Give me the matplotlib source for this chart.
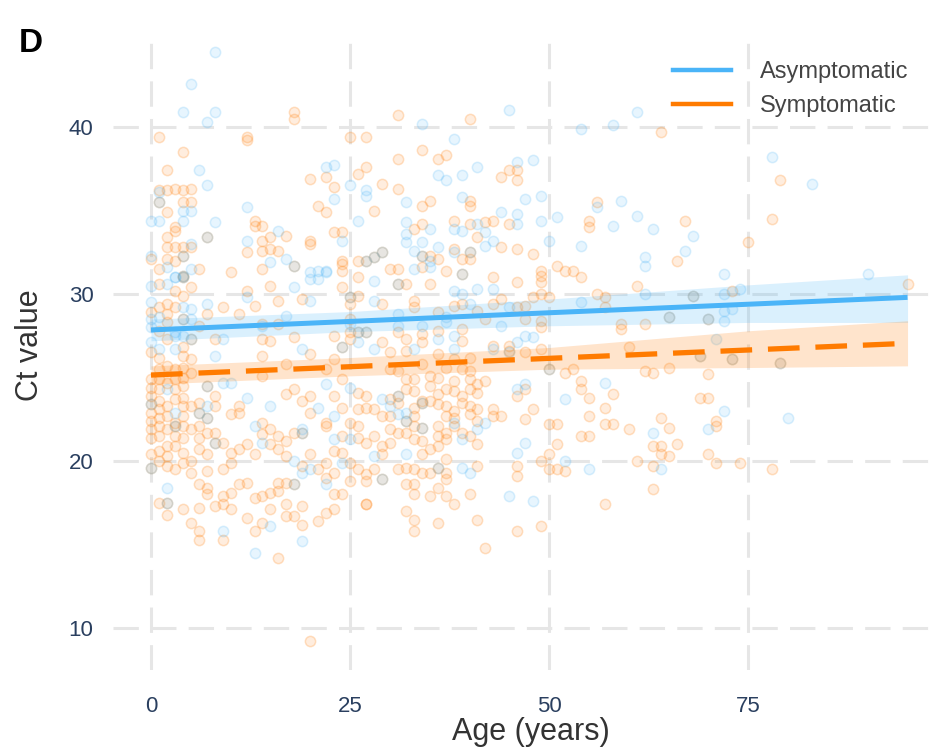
import numpy as np
import matplotlib
matplotlib.use('Agg')
import matplotlib.pyplot as plt
from matplotlib.lines import Line2D

plt.rcParams['font.family'] = ['Liberation Sans', 'DejaVu Sans']

# (age, Ct value) pairs
asym_points = [
    # upper left
    (8, 44.5), (5, 42.6), (4, 40.9), (8, 40.9), (7, 40.3), (6, 37.4), (7, 36.5), (1, 36.1), (1, 35.5),
    (4, 35.0), (5, 35.0), (0, 34.4), (1, 34.4), (4, 34.4), (8, 34.3), (7, 33.4), (12, 35.2), (16, 33.8),
    (12, 33.2), (15, 31.9), (17, 32.1), (18, 31.7), (20, 31.3), (21, 31.4), (22, 31.4), (22, 37.6),
    (23, 37.7), (23, 35.7), (24, 33.2), (25, 36.5), (27, 36.2), (27, 35.9), (26, 34.4), (29, 32.5),
    (28, 32.2), (27, 32.0), (0, 32.3), (2, 31.6), (5, 31.5), (3, 31.0), (4, 32.3), (4, 31.1), (5, 33.0),
    # upper middle
    (45, 41.0), (34, 40.2), (54, 39.9), (58, 40.1), (61, 40.9), (38, 39.3), (46, 37.9), (48, 38.0),
    (41, 37.6), (36, 37.1), (37, 36.8), (39, 37.1), (32, 35.5), (39, 35.8), (47, 35.7), (49, 35.9),
    (51, 34.6), (56, 35.2), (59, 35.6), (61, 34.7), (63, 33.9), (58, 34.1), (50, 33.2), (54, 32.9),
    (62, 32.2), (62, 31.7), (32, 34.3), (32, 33.6), (32, 33.1), (35, 33.9), (34, 33.1), (33, 32.6),
    (36, 32.8), (38, 33.9), (39, 33.8), (41, 34.2), (42, 33.7), (43, 33.2), (42, 32.9), (46, 34.8),
    (46, 34.2), (44, 34.9), (49, 34.4), (38, 32.5), (35, 32.0), (33, 31.5), (35, 31.6), (40, 32.5),
    (39, 31.2), (34, 32.3),
    # upper right
    (78, 38.2), (83, 36.6), (68, 33.5), (67, 32.6), (72, 31.2), (90, 31.2),
    # right
    (74, 30.3), (72, 30.0), (68, 29.9), (65, 28.6), (70, 28.5), (72, 29.0), (73, 29.1), (72, 28.4),
    (71, 27.3), (69, 26.3), (73, 26.1), (79, 25.9), (72, 23.0), (80, 22.6), (70, 21.9), (63, 21.7),
    (64, 19.5),
    # low
    (13, 14.5), (19, 15.2), (9, 15.8), (15, 16.1), (2, 17.5), (22, 18.6), (18, 18.6), (45, 17.9),
    (48, 17.6),
    # middle, ages 0-30
    (0, 30.5), (0, 29.5), (0, 28.5), (0, 28.0), (0, 27.1), (0, 23.4), (0, 19.6), (1, 28.6), (1, 26.7),
    (2, 30.6), (2, 24.3), (2, 18.4), (3, 31.0), (3, 27.7), (3, 27.5), (3, 26.7), (3, 22.9), (3, 22.1),
    (4, 31.0), (4, 29.2), (4, 28.5), (4, 27.5), (5, 29.1), (5, 28.5), (5, 27.3), (6, 22.9),
    (7, 29.4), (7, 24.5), (7, 23.3), (7, 22.6), (8, 26.3), (8, 21.1), (9, 27.3), (9, 24.7), (10, 24.7),
    (12, 29.8), (12, 23.8), (13, 22.1), (14, 28.1), (14, 21.1), (15, 23.3), (17, 28.7), (18, 30.4),
    (18, 20.0), (19, 26.7), (19, 21.7), (19, 21.9), (19, 19.3), (20, 30.9), (20, 29.6), (20, 19.5),
    (21, 30.9), (21, 23.2), (22, 31.3), (22, 24.6), (23, 22.7), (23, 21.3), (24, 26.8), (24, 19.9),
    (25, 29.8), (25, 28.2), (25, 24.4), (25, 21.3), (26, 27.1), (26, 27.7), (27, 27.7), (28, 30.8),
    (28, 29.6), (28, 26.7), (28, 20.3), (29, 23.7), (29, 18.9), (30, 23.3),
    # middle, ages 31-63
    (31, 30.6), (31, 28.8), (31, 28.1), (31, 23.9), (31, 22.8), (32, 22.9), (32, 22.4), (32, 20.4),
    (33, 26.7), (34, 28.1), (34, 23.5), (34, 22.0), (36, 27.3), (36, 19.6), (37, 28.6), (37, 28.3),
    (38, 30.2), (38, 27.5), (38, 26.7), (38, 22.3), (39, 30.0), (39, 21.3), (39, 19.6), (40, 29.4),
    (40, 19.3), (41, 30.3), (41, 21.9), (42, 22.3), (43, 30.3), (43, 26.7), (44, 28.1), (45, 29.2),
    (45, 26.5), (46, 27.1), (46, 24.3), (46, 20.5), (47, 27.5), (47, 24.6), (47, 21.1), (48, 27.4),
    (50, 25.5), (52, 23.7), (52, 20.0), (54, 29.5), (55, 19.5), (57, 24.7), (62, 30.0),
]

sym_points = [
    # upper left
    (18, 40.9), (18, 40.5), (1, 39.4), (12, 39.4), (12, 39.2), (25, 39.4), (27, 39.4), (31, 40.7),
    (4, 38.5), (2, 37.4), (1, 36.2), (2, 36.2), (3, 36.3), (4, 36.2), (5, 36.3), (1, 35.5), (4, 35.5),
    (5, 35.5), (2, 34.9), (3, 34.0), (3, 33.8), (2, 33.4), (7, 33.4), (13, 34.4), (13, 34.1),
    (14, 34.1), (17, 33.5), (14, 33.2), (15, 33.4), (15, 32.7), (14, 32.6), (16, 32.6), (12, 32.5),
    (20, 33.2), (20, 33.0), (18, 31.7), (10, 31.3), (14, 31.5), (20, 36.9), (22, 37.0), (23, 36.4),
    (21, 35.3), (22, 34.9), (23, 33.7), (24, 33.7), (24, 32.0), (24, 31.8), (26, 37.2), (27, 37.6),
    (29, 36.6), (28, 35.0), (31, 38.1), (31, 36.3), (29, 32.5), (28, 32.2), (27, 32.0), (26, 32.0),
    (30, 31.5), (31, 31.5), (1, 31.5), (3, 32.0), (2, 32.1), (0, 32.1), (4, 32.3), (4, 31.1),
    (2, 32.8), (3, 32.8), (4, 32.8), (5, 32.8), (6, 31.5),
    # upper middle
    (40, 40.5), (64, 39.7), (34, 38.6), (36, 38.1), (37, 38.3), (45, 37.4), (46, 37.4), (44, 37.0),
    (46, 36.8), (34, 35.3), (35, 35.6), (40, 35.6), (40, 35.3), (56, 35.5), (55, 34.4), (55, 34.0),
    (51, 31.7), (52, 31.4), (53, 31.4), (54, 31.0), (49, 31.4), (33, 33.9), (34, 34.2), (38, 34.4),
    (40, 34.2), (42, 34.3), (43, 34.4), (45, 34.2), (41, 33.4), (38, 32.7), (39, 32.1), (40, 32.1),
    (44, 32.8), (46, 32.7), (48, 32.4), (34, 31.6), (35, 32.3), (36, 32.1), (40, 32.5), (39, 31.2),
    (34, 32.3),
    # upper right
    (79, 36.8), (67, 34.4), (78, 34.5), (75, 33.1), (66, 32.0),
    # right
    (95, 30.6), (73, 30.2), (68, 29.9), (65, 28.6), (70, 28.5), (69, 26.3), (73, 26.1), (79, 25.9),
    (63, 25.3), (65, 25.6), (70, 25.2), (69, 23.8), (70, 23.8), (64, 22.6), (65, 22.0), (71, 22.4),
    (71, 22.1), (64, 20.9), (66, 21.0), (64, 20.4), (65, 20.3), (70, 20.4), (71, 19.9), (74, 19.9),
    (78, 19.5), (63, 19.7), (63, 18.3),
    # low
    (20, 9.2), (16, 14.2), (6, 15.8), (6, 15.3), (9, 15.3), (5, 16.3), (2, 16.8), (4, 17.1), (6, 17.2),
    (1, 17.5), (2, 17.5), (8, 17.3), (9, 17.4), (10, 17.1), (9, 17.9), (10, 18.1), (11, 18.6),
    (6, 18.6), (7, 18.4), (7, 18.0), (12, 16.6), (13, 17.8), (14, 17.9), (13, 15.8), (14, 16.3),
    (15, 17.1), (16, 18.2), (17, 17.4), (17, 16.7), (18, 16.7), (19, 17.3), (19, 16.2), (21, 16.4),
    (22, 16.9), (23, 17.1), (23, 18.0), (24, 18.0), (27, 17.4), (27, 17.4), (25, 18.8), (27, 18.8),
    (18, 18.6), (17, 18.7), (16, 18.7), (57, 17.4), (49, 16.1), (46, 15.8), (42, 14.8), (41, 16.5),
    (36, 16.3), (33, 16.5), (33, 15.8), (32, 17.0), (35, 17.9), (36, 18.4), (37, 17.9), (38, 17.4),
    (40, 18.0), (33, 18.0), (32, 18.6), (33, 18.6), (29, 18.9),
    # middle, ages 0-30
    (0, 28.9), (0, 26.5), (0, 24.9), (0, 24.4), (0, 23.9), (0, 23.4), (0, 22.9), (0, 22.4), (0, 21.9),
    (0, 21.4), (0, 20.4), (0, 19.6),
    (1, 30.6), (1, 29.2), (1, 27.8), (1, 26.2), (1, 25.5), (1, 24.9), (1, 24.3), (1, 23.6), (1, 23.1),
    (1, 22.6), (1, 22.1), (1, 21.5), (1, 20.6), (1, 20.0),
    (2, 29.4), (2, 28.8), (2, 28.3), (2, 27.3), (2, 25.7), (2, 24.7), (2, 23.3), (2, 22.7), (2, 21.9),
    (2, 20.9), (2, 20.3), (2, 19.7),
    (3, 30.2), (3, 29.2), (3, 25.5), (3, 24.9), (3, 24.3), (3, 23.7), (3, 22.3), (3, 22.1), (3, 21.5),
    (3, 20.9), (3, 19.5),
    (4, 31.0), (4, 29.9), (4, 28.5), (4, 26.8), (4, 26.3), (4, 25.6), (4, 25.0), (4, 24.5), (4, 23.8),
    (4, 23.3), (4, 22.7), (4, 22.1), (4, 21.4), (4, 20.5), (4, 19.9),
    (5, 30.4), (5, 27.3), (5, 26.1), (5, 25.3), (5, 23.3), (5, 21.9), (5, 20.0), (5, 19.3),
    (6, 28.1), (6, 23.5), (6, 22.9), (6, 22.1), (6, 21.4), (6, 20.7),
    (7, 28.8), (7, 24.5), (7, 22.6), (7, 21.7), (7, 20.4), (7, 19.4),
    (8, 27.3), (8, 23.9), (8, 23.3), (8, 21.7), (8, 21.1),
    (9, 29.2), (9, 21.1), (9, 19.5), (10, 22.8), (10, 20.5), (10, 19.9),
    (11, 28.8), (11, 23.3), (11, 22.9), (11, 20.7), (12, 30.2), (12, 21.0), (12, 18.7),
    (13, 29.3), (13, 20.4), (14, 28.2), (14, 27.3), (14, 26.3), (14, 25.1), (14, 22.3), (14, 21.6),
    (15, 30.5), (15, 27.2), (15, 21.9), (15, 21.0), (15, 18.1), (16, 29.6), (16, 28.2), (16, 21.5),
    (16, 20.7), (17, 25.8), (17, 24.0), (17, 21.2), (17, 20.3), (18, 27.4), (18, 24.3), (18, 21.7),
    (19, 29.7), (19, 23.6), (19, 21.7), (19, 19.7), (20, 26.4), (20, 23.9), (20, 22.9), (20, 20.4),
    (21, 19.5), (22, 25.5), (22, 22.3), (22, 22.1), (22, 19.9), (22, 19.0),
    (23, 27.5), (23, 26.1), (23, 23.9), (23, 20.6), (23, 19.3),
    (24, 31.4), (24, 30.4), (24, 26.8), (24, 24.9), (24, 23.2), (24, 21.5), (24, 20.5),
    (25, 29.8), (25, 29.4), (25, 28.5), (25, 27.7), (25, 27.3), (25, 22.3), (25, 19.9),
    (26, 31.0), (26, 29.9), (26, 27.7), (26, 24.1), (26, 23.1), (26, 22.1), (26, 21.4), (26, 19.5),
    (27, 27.7), (27, 23.9), (27, 23.2), (27, 21.1), (27, 19.2), (28, 23.1), (28, 21.5), (28, 19.5),
    (29, 29.4), (29, 27.1), (29, 22.7), (29, 20.9), (29, 20.4), (30, 21.9),
    # middle, ages 30-63
    (30, 26.5), (30, 25.5), (30, 23.7), (30, 22.7), (30, 21.1),
    (31, 30.6), (31, 27.7), (31, 25.4), (31, 23.9), (31, 23.5), (31, 21.7), (31, 19.5),
    (32, 30.6), (32, 27.3), (32, 26.6), (32, 24.9), (32, 24.3), (32, 22.4), (32, 21.7), (32, 19.6),
    (33, 29.6), (33, 29.2), (33, 24.9), (33, 24.2), (33, 23.2), (33, 22.7), (33, 22.1), (33, 21.3),
    (33, 19.5),
    (34, 27.6), (34, 27.1), (34, 25.8), (34, 23.6), (34, 23.5), (34, 22.0), (34, 21.2), (34, 20.4),
    (34, 19.3),
    (35, 30.6), (35, 25.1), (35, 24.5), (35, 23.6), (35, 20.7), (35, 19.3),
    (36, 28.9), (36, 27.8), (36, 26.4), (36, 25.0), (36, 24.0), (36, 23.4), (36, 22.1), (36, 21.5),
    (36, 20.9), (36, 19.6),
    (37, 31.4), (37, 25.6), (37, 24.3), (37, 23.3), (37, 22.7), (37, 21.7), (37, 21.3), (37, 20.1),
    (37, 19.3), (37, 18.9),
    (38, 29.3), (38, 26.1), (38, 24.8), (38, 24.2), (38, 23.0), (38, 22.6), (38, 22.1),
    (39, 29.4), (39, 27.9), (39, 27.2), (39, 25.5), (39, 23.9), (39, 23.5), (39, 21.7),
    (40, 26.2), (40, 25.4), (40, 24.9), (40, 24.3), (40, 23.3), (40, 22.8), (40, 21.5),
    (41, 29.0), (41, 24.6), (41, 24.1), (41, 23.1), (41, 22.4), (41, 21.0), (41, 19.7),
    (42, 28.5), (42, 24.8), (43, 31.0), (43, 29.4), (43, 26.9), (43, 23.1), (43, 22.7),
    (44, 29.7), (44, 22.7), (45, 26.9), (45, 26.6),
    (46, 30.7), (46, 29.2), (46, 23.9), (46, 19.7), (46, 19.1),
    (47, 29.3), (47, 28.5), (47, 26.5), (47, 24.3), (47, 22.5), (48, 29.8), (48, 23.1),
    (49, 31.1), (49, 30.7), (49, 30.0), (49, 28.4), (49, 28.0), (49, 26.7), (49, 20.0),
    (50, 29.8), (50, 25.5), (50, 22.2), (50, 20.4), (50, 19.5), (51, 22.2), (51, 21.0), (51, 19.5),
    (52, 25.3), (52, 19.4), (53, 25.5), (54, 24.8), (54, 24.3), (54, 21.5),
    (55, 23.8), (55, 22.7), (55, 21.5), (56, 30.0), (57, 29.8), (57, 29.2), (57, 23.2), (57, 22.2),
    (58, 24.0), (58, 22.2), (59, 28.2), (59, 27.9), (60, 26.8), (60, 21.9), (61, 30.5), (61, 20.0),
    (62, 28.2), (62, 25.4), (63, 20.9),
]

# regression lines and 95% bands, read at a few ages
fit_age = [0, 25, 50, 75, 95]
asym_fit = [27.85, 28.36, 28.88, 29.39, 29.80]
asym_lo = [27.20, 27.75, 28.10, 28.30, 28.30]
asym_hi = [28.50, 28.95, 29.70, 30.55, 31.15]
sym_fit = [25.15, 25.65, 26.15, 26.65, 27.05]
sym_lo = [24.60, 25.10, 25.50, 25.60, 25.70]
sym_hi = [25.70, 26.20, 26.80, 27.80, 28.40]

x_ticks = [0, 25, 50, 75]
y_ticks = [10, 20, 30, 40]

blue = '#4ab4f8'
orange = '#ff7b00'

asym = np.array(asym_points)
sym = np.array(sym_points)

fig = plt.figure(figsize=(9.47, 7.48), dpi=100)
ax = fig.add_axes([113 / 947, 1 - 670 / 748, 824 / 947, 633 / 748])

ax.scatter(sym[:, 0], sym[:, 1], s=55, facecolors=matplotlib.colors.to_rgba(orange, 0.13),
           edgecolors=matplotlib.colors.to_rgba(orange, 0.22), linewidths=1.1, zorder=2)
ax.scatter(asym[:, 0], asym[:, 1], s=55, facecolors=matplotlib.colors.to_rgba(blue, 0.13),
           edgecolors=matplotlib.colors.to_rgba(blue, 0.2), linewidths=1.1, zorder=2)

ax.fill_between(fit_age, asym_lo, asym_hi, color=blue, alpha=0.2, lw=0, zorder=3)
ax.fill_between(fit_age, sym_lo, sym_hi, color=orange, alpha=0.2, lw=0, zorder=3)
ax.plot(fit_age, asym_fit, color=blue, lw=3.6, solid_capstyle='butt', zorder=4)
ax.plot(fit_age, sym_fit, color=orange, lw=3.8, dashes=(6, 3), dash_capstyle='butt', zorder=4)

ax.set_xlim(-4.77, 98.7)
ax.set_ylim(7.49, 45.39)
ax.set_xticks(x_ticks)
ax.set_yticks(y_ticks)
ax.grid(True, color='#e6e6e6', lw=2.2, linestyle=(0, (8.3, 4)))
ax.set_axisbelow(True)
for s in ax.spines.values():
    s.set_visible(False)
ax.tick_params(length=0, labelsize=16, labelcolor='#2a3f5f')
ax.tick_params(axis='x', pad=19)
ax.tick_params(axis='y', pad=14)

fig.text(531 / 947, 1 - 740 / 748, 'Age (years)', ha='center', va='baseline', fontsize=22, color='#333333')
fig.text(30 / 947, 1 - 345 / 748, 'Ct value', ha='center', va='center', rotation=90,
         fontsize=22, color='#333333')
fig.text(19 / 947, 1 - 52 / 748, 'D', ha='left', va='baseline', fontsize=24,
         fontweight='bold', color='black')

handles = [Line2D([], [], color=blue, lw=3.2), Line2D([], [], color=orange, lw=3.2)]
leg = ax.legend(handles, ['Asymptomatic', 'Symptomatic'], loc='upper left',
                bbox_to_anchor=(673 / 947, 1 - 61 / 748), bbox_transform=fig.transFigure,
                frameon=False, fontsize=17, handlelength=2.45, handletextpad=1.25,
                labelspacing=0.5, borderpad=0, borderaxespad=0)
for t in leg.get_texts():
    t.set_color('#444444')

fig.savefig('out.png', dpi=100)
